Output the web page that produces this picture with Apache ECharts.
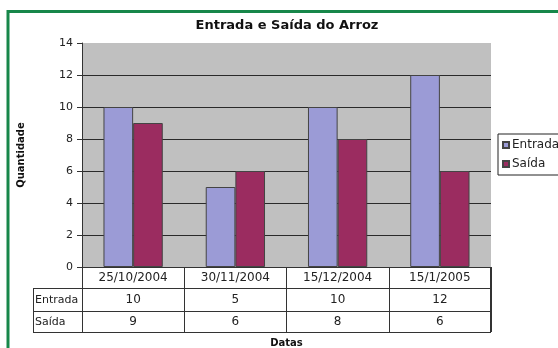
<!DOCTYPE html>
<html>
<head>
<meta charset="utf-8">
<script src="https://cdn.jsdelivr.net/npm/echarts@6/dist/echarts.min.js"></script>
<style>
  html, body { margin: 0; padding: 0; background: #ffffff; }
  #chart { width: 558px; height: 348px; }
</style>
</head>
<body>
<div id="chart"></div>
<script>
// Stock movement of rice: quantity in and out per date
const datas = ['25/10/2004', '30/11/2004', '15/12/2004', '15/1/2005'];
const entrada = [10, 5, 10, 12];
const saida = [9, 6, 8, 6];
const seriesNames = ['Entrada', 'Saída'];
const yTicks = { min: 0, max: 14, interval: 2 };

const FONT = 'DejaVu Sans';
const GRID = { left: 82, top: 43, width: 409, height: 224 };
const ROW_H = [21, 23, 21]; // header, Entrada, Saída
const LABEL_COL_X = 33;
const LINE = '#333333';

const chart = echarts.init(document.getElementById('chart'), null, { renderer: 'canvas' });

chart.setOption({
  backgroundColor: '#ffffff',
  animation: false,
  title: {
    text: 'Entrada e Saída do Arroz',
    left: 282, top: 14, textAlign: 'center',
    textStyle: { fontFamily: FONT, fontSize: 13, fontWeight: 'bold', color: '#111' }
  },
  grid: {
    left: GRID.left, top: GRID.top, width: GRID.width, height: GRID.height,
    outerBoundsMode: 'none', containLabel: false,
    show: true, backgroundColor: '#c0c0c0', borderWidth: 0
  },
  legend: {
    orient: 'vertical',
    left: 498, top: 134,
    data: seriesNames,
    icon: 'rect',
    itemWidth: 6, itemHeight: 6, itemGap: 7,
    padding: [5, 8, 5, 4],
    borderColor: '#222', borderWidth: 1,
    textStyle: { fontFamily: FONT, fontSize: 12, color: '#222', padding: [0, 0, 0, -2] }
  },
  xAxis: {
    type: 'category',
    data: datas,
    name: 'Datas',
    nameLocation: 'middle',
    nameGap: 71,
    nameTextStyle: { fontFamily: FONT, fontSize: 10, fontWeight: 'bold', color: '#111' },
    axisLine: { lineStyle: { color: LINE, width: 1 } },
    axisTick: { show: true, inside: false, length: ROW_H[0] + ROW_H[1] + ROW_H[2], lineStyle: { color: LINE } },
    axisLabel: { fontFamily: FONT, fontSize: 12, color: '#222', margin: 5 }
  },
  yAxis: {
    type: 'value',
    min: yTicks.min, max: yTicks.max, interval: yTicks.interval,
    name: 'Quantidade',
    nameLocation: 'middle',
    nameRotate: 90,
    nameGap: 56,
    nameTextStyle: { fontFamily: FONT, fontSize: 10, fontWeight: 'bold', color: '#111' },
    axisLine: { show: true, lineStyle: { color: LINE, width: 1 } },
    axisTick: { show: true, length: 5, lineStyle: { color: LINE } },
    axisLabel: { fontFamily: FONT, fontSize: 11, color: '#222', margin: 9 },
    splitLine: { show: true, showMaxLine: false, lineStyle: { color: '#2a2a2a', width: 1 } }
  },
  series: [
    {
      name: seriesNames[0], type: 'bar', data: entrada,
      barGap: '0%', barCategoryGap: '42%',
      itemStyle: { color: '#9b9bd6', borderColor: '#444', borderWidth: 1 }
    },
    {
      name: seriesNames[1], type: 'bar', data: saida,
      barGap: '0%', barCategoryGap: '42%',
      itemStyle: { color: '#9b2c60', borderColor: '#444', borderWidth: 1 }
    }
  ]
});

// Data table under the axis: row lines, row labels and values per category
const yBase = chart.convertToPixel({ yAxisIndex: 0 }, 0);
const xLeft = GRID.left, xRight = GRID.left + GRID.width;
const r1 = yBase + ROW_H[0];
const r2 = r1 + ROW_H[1];
const r3 = r2 + ROW_H[2];
const rows = [
  { label: seriesNames[0], values: entrada, top: r1, bottom: r2 },
  { label: seriesNames[1], values: saida, top: r2, bottom: r3 }
];

const g = [];
[r1, r2, r3].forEach(y => {
  g.push({ type: 'line', shape: { x1: LABEL_COL_X, y1: y + 0.5, x2: xRight, y2: y + 0.5 },
           style: { stroke: LINE, lineWidth: 1 } });
});
g.push({ type: 'line', shape: { x1: LABEL_COL_X + 0.5, y1: r1, x2: LABEL_COL_X + 0.5, y2: r3 },
         style: { stroke: LINE, lineWidth: 1 } });
g.push({ type: 'line', shape: { x1: xRight - 0.5, y1: yBase, x2: xRight - 0.5, y2: r3 },
         style: { stroke: LINE, lineWidth: 1 } });
g.push({ type: 'line', shape: { x1: xLeft + 0.5, y1: yBase, x2: xLeft + 0.5, y2: r3 },
         style: { stroke: LINE, lineWidth: 1 } });

rows.forEach(row => {
  const cy = (row.top + row.bottom) / 2 + 0.5;
  g.push({ type: 'text', x: LABEL_COL_X + 2, y: cy,
           style: { text: row.label, fontFamily: FONT, fontSize: 11, fill: '#222',
                    align: 'left', verticalAlign: 'middle' } });
  row.values.forEach((v, i) => {
    const cx = chart.convertToPixel({ xAxisIndex: 0 }, datas[i]);
    g.push({ type: 'text', x: cx, y: cy,
             style: { text: String(v), fontFamily: FONT, fontSize: 12, fill: '#222',
                      align: 'center', verticalAlign: 'middle' } });
  });
});

// Green frame along the top and left edges
g.push({ type: 'polyline', shape: { points: [[8, 348], [8, 11.5], [558, 11.5]] },
         style: { stroke: '#17874a', lineWidth: 3, fill: null } });

chart.setOption({ graphic: g });
</script>
</body>
</html>
